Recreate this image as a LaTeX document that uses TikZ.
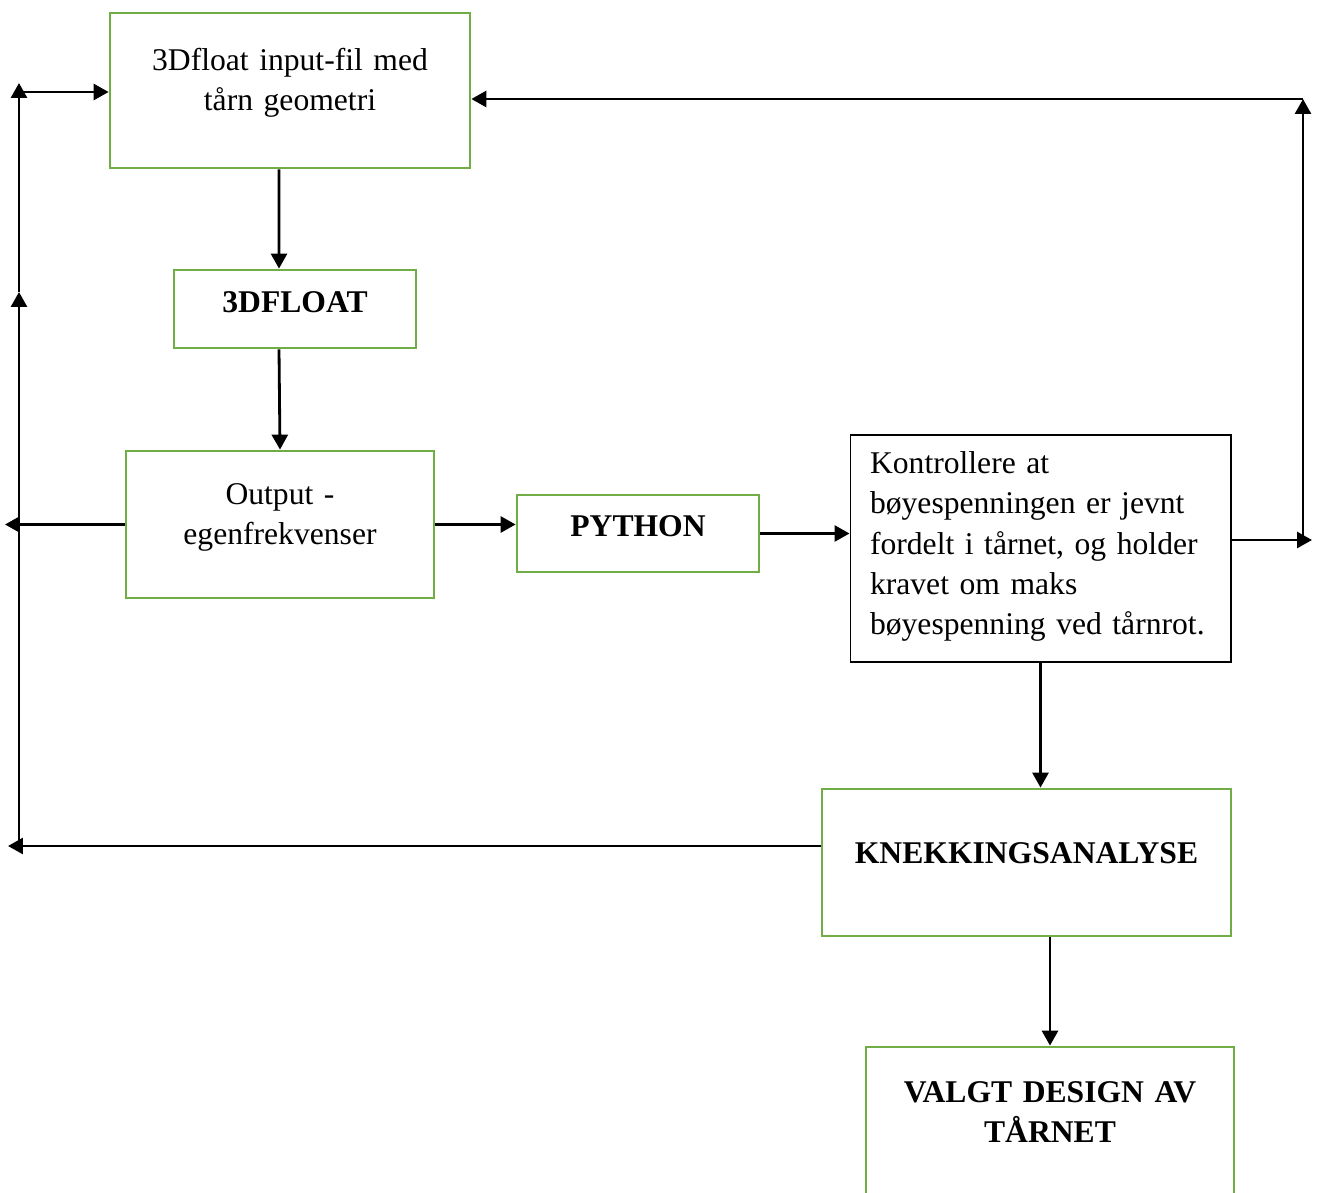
\documentclass[tikz,border=0pt]{standalone}
\usepackage{fontspec}
\setmainfont{Liberation Serif}
\usetikzlibrary{arrows.meta,positioning}
\definecolor{boxgreen}{RGB}{112,173,71}

\begin{document}
\begin{tikzpicture}[
  x=0.02cm, y=-0.02cm,
  font=\fontsize{18}{22.8}\selectfont,
  gbox/.style={draw=boxgreen,line width=1.6pt,inner sep=0pt,align=center},
  kbox/.style={draw,line width=0.6pt,inner sep=0pt,align=left},
  bold/.style={font=\fontsize{18}{22.8}\selectfont\bfseries},
  arr/.style={-{Triangle[length=0.3cm,width=0.32cm]},line width=1.6pt}
]
\path[use as bounding box,clip] (0,0) rectangle (1319,1193);
% boxes
\node[gbox,minimum width=7.2cm,minimum height=3.1cm,text width=6.8cm,
      text height=13pt,text depth=35.8pt] (inp) at (290,90.5)
  {3Dfloat input-fil med\\tårn geometri};
\node[gbox,bold,minimum width=4.84cm,minimum height=1.56cm,
      text height=13pt,text depth=9pt] (flt) at (295,309) {3DFLOAT};
\node[gbox,minimum width=6.16cm,minimum height=2.94cm,text width=5.8cm,
      text height=13pt,text depth=35.8pt] (outp) at (280,524.5)
  {Output -\\egenfrekvenser};
\node[gbox,bold,minimum width=4.84cm,minimum height=1.54cm,
      text height=13pt,text depth=10pt] (py) at (638,533.5) {PYTHON};
\node[kbox,minimum width=7.62cm,minimum height=4.54cm,text width=6.82cm,
      text height=13pt,text depth=97.9pt] (ctrl) at (1040.5,548.5)
  {Kontrollere at\\bøyespenningen er jevnt\\fordelt i tårnet, og holder\\kravet om maks\\bøyespenning ved tårnrot.};
\node[gbox,bold,minimum width=8.18cm,minimum height=2.94cm,
      text height=13pt,text depth=12.4pt] (kn) at (1026.5,862.5) {KNEKKINGSANALYSE};
\node[gbox,bold,minimum width=7.36cm,minimum height=3.6cm,text width=7cm,
      text height=13pt,text depth=52.8pt] (valg) at (1050,1137)
  {VALGT DESIGN AV\\TÅRNET};
% loose ends of the feedback lines
\coordinate (rE) at (1312,540);
\coordinate (rB) at (1303,540);
\coordinate (rT) at (1303,99);
\coordinate (lo) at (5,524.5);
\coordinate (lk) at (8,846);
\coordinate (lb) at (19,846);
\coordinate (lm) at (19,292);
\coordinate (lt) at (19,83);
\coordinate (lh) at (19,92);
% main flow
\draw[arr] ([xshift=-0.22cm]inp.south) -- ([xshift=-0.32cm]flt.north);
\draw[arr] ([xshift=-0.32cm]flt.south) -- (outp.north);
\draw[arr] (outp.east) -- (outp.east -| py.west);
\draw[arr] (py.east) -- (py.east -| ctrl.west);
\draw[arr] (ctrl.south) -- (kn.north -| ctrl.south);
\draw[arr] (valg.north |- kn.south) -- (valg.north);
% feedback right
\draw[arr] (ctrl.east |- rE) -- (rE);
\draw[arr] (rB) -- (rT);
\draw[arr] (rT) -- (inp.east |- rT);
% feedback left
\draw[arr] (outp.west) -- (lo);
\draw[arr] (kn.west |- lk) -- (lk);
\draw[arr] (lb) -- (lm);
\draw[arr] (lm) -- (lt);
\draw[arr] (lh) -- (inp.west |- lh);
\end{tikzpicture}
\end{document}
